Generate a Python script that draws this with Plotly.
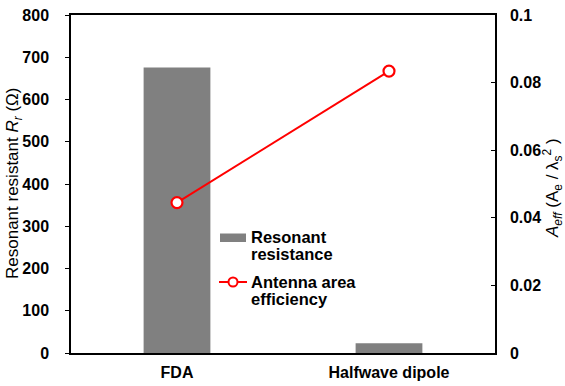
import plotly.graph_objects as go

# Antenna types compared
categories = ["FDA", "Halfwave dipole"]
# Resonant resistance R_r in ohms
resonant_resistance = [676, 23]
# Antenna area efficiency A_eff = A_e / lambda_s^2
area_efficiency = [0.0445, 0.0834]

left_ticks = [0, 100, 200, 300, 400, 500, 600, 700, 800]
right_ticks = [0, 0.02, 0.04, 0.06, 0.08, 0.1]
right_tick_text = ["0", "0.02", "0.04", "0.06", "0.08", "0.1"]

FONT = "Liberation Sans, Arial, sans-serif"
GRAY = "#808080"
RED = "#FF0000"
TICK_SIZE = 16
LEGEND_SIZE = 16.5
TITLE_SIZE = 17

fig = go.Figure()
fig.add_trace(go.Bar(
    x=categories, y=resonant_resistance, name="Resonant resistance",
    marker=dict(color=GRAY, line=dict(width=0)), width=0.315, yaxis="y",
))
fig.add_trace(go.Scatter(
    x=categories, y=area_efficiency, name="Antenna area efficiency",
    mode="lines+markers", yaxis="y2",
    line=dict(color=RED, width=2),
    marker=dict(symbol="circle", size=11, color="white",
                line=dict(color=RED, width=2.2)),
))

# plot-area pixel geometry used to place the legend
L, R, T, B = 71, 495, 15, 353
W, H = R - L, B - T


def px(x):
    return (x - L) / W


def py(y):
    return (B - y) / H


shapes = [
    dict(type="rect", xref="paper", yref="paper",
         x0=px(220), x1=px(246), y0=py(242), y1=py(233.5),
         fillcolor=GRAY, line=dict(width=0)),
    dict(type="line", xref="paper", yref="paper",
         x0=px(219), x1=px(247), y0=py(282), y1=py(282),
         line=dict(color=RED, width=2)),
    dict(type="circle", xref="paper", yref="paper",
         x0=px(228.5), x1=px(237.5), y0=py(286.5), y1=py(277.5),
         fillcolor="white", line=dict(color=RED, width=2)),
]

legend_lines = [("Resonant", 237), ("resistance", 254),
                ("Antenna area", 282), ("efficiency", 299)]
annotations = [
    dict(text=f"<b>{t}</b>", xref="paper", yref="paper", x=px(249), y=py(yc),
         xanchor="left", yanchor="middle", showarrow=False,
         font=dict(family=FONT, size=LEGEND_SIZE, color="black"))
    for t, yc in legend_lines
]
# axis titles placed at fixed pixel columns
annotations += [
    dict(text="Resonant resistant <i>R<sub>r</sub></i> (Ω)",
         xref="paper", yref="paper", x=px(14), y=0.5, textangle=-90,
         xanchor="center", yanchor="middle", showarrow=False,
         font=dict(family=FONT, size=TITLE_SIZE, color="black")),
    dict(text="<i>A<sub>eff</sub></i> (A<sub>e</sub> / λ<sub>s</sub><sup>2</sup> )",
         xref="paper", yref="paper", x=px(552), y=py(188), textangle=-90,
         xanchor="center", yanchor="middle", showarrow=False,
         font=dict(family=FONT, size=TITLE_SIZE, color="black")),
]

fig.update_layout(
    width=565, height=386,
    margin=dict(l=L, r=565 - R, t=T, b=386 - B, autoexpand=False),
    paper_bgcolor="white", plot_bgcolor="white",
    showlegend=False,
    font=dict(family=FONT, color="black"),
    shapes=shapes, annotations=annotations,
    xaxis=dict(
        automargin=False,
        showline=True, linecolor="black", linewidth=1.5, mirror=True,
        ticks="", tickfont=dict(family=FONT, size=TICK_SIZE, color="black", weight="bold"),
        ticklabelstandoff=4,
    ),
    yaxis=dict(
        automargin=False,
        range=[0, 800], tickvals=left_ticks, showgrid=False, zeroline=False,
        showline=True, linecolor="black", linewidth=1.5,
        ticks="outside", ticklen=4, tickwidth=1, tickcolor="black",
        tickfont=dict(family=FONT, size=TICK_SIZE, color="black", weight="bold"),
        ticklabelstandoff=13,
    ),
    yaxis2=dict(
        automargin=False,
        range=[0, 0.1], tickvals=right_ticks, ticktext=right_tick_text,
        overlaying="y", side="right", showgrid=False, zeroline=False,
        showline=True, linecolor="black", linewidth=1.5,
        ticks="inside", ticklen=4, tickwidth=1, tickcolor="black",
        tickfont=dict(family=FONT, size=TICK_SIZE, color="black", weight="bold"),
        ticklabelstandoff=10,
    ),
)

fig.write_html("out.html")
